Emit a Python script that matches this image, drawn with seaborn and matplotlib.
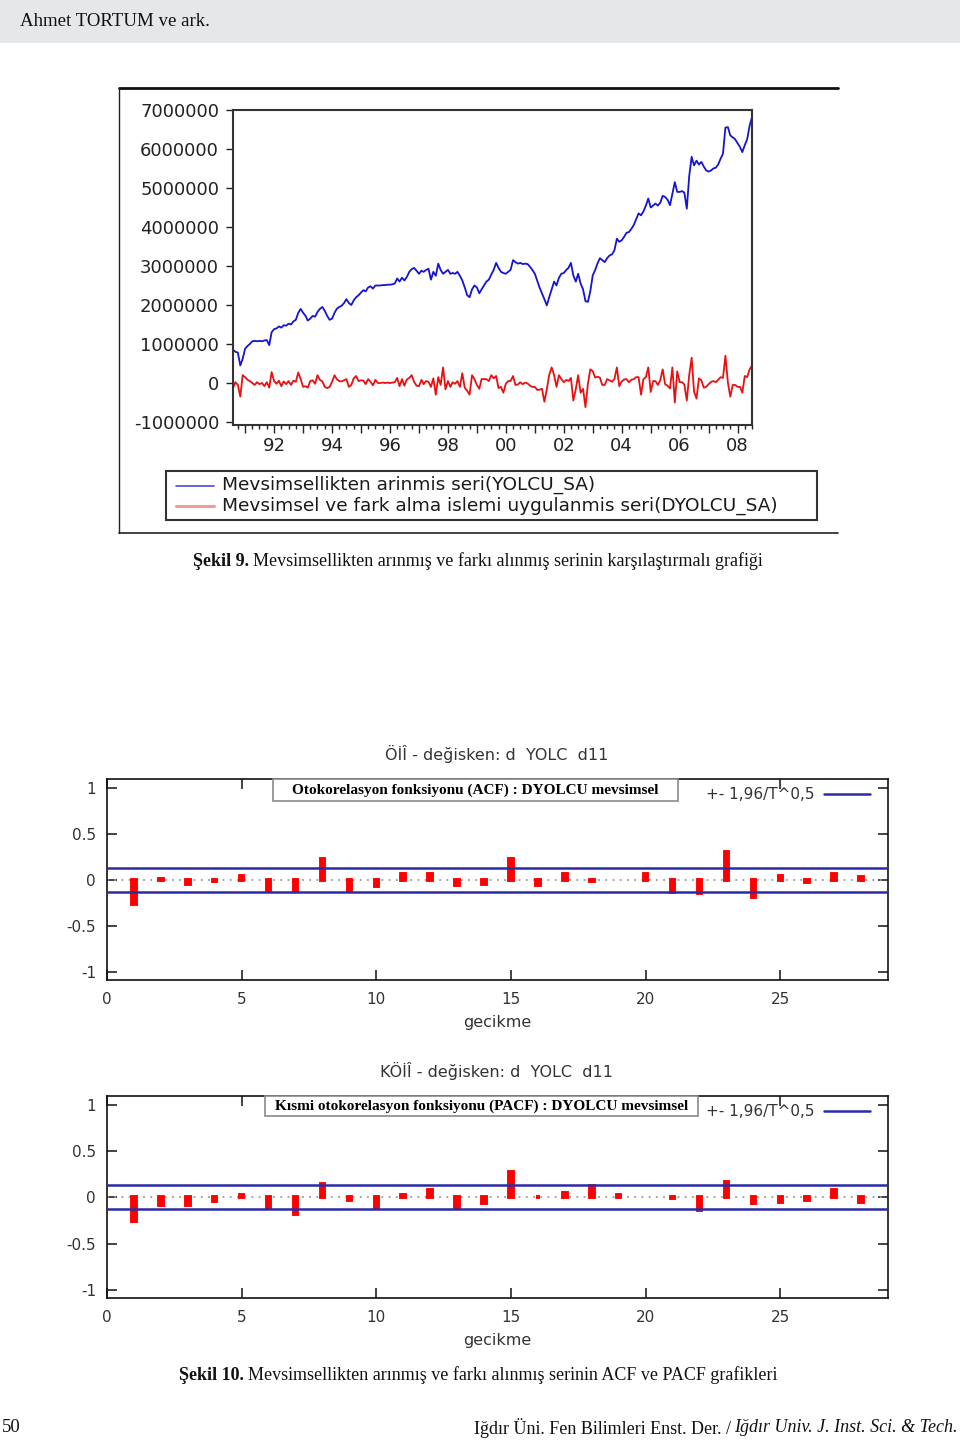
import numpy as np
import pandas as pd
import matplotlib
matplotlib.use("Agg")
import matplotlib.pyplot as plt
import matplotlib.dates as mdates
from matplotlib.patches import Rectangle
from matplotlib.lines import Line2D
import seaborn as sns

# ---------------- data ----------------
start_month = "1990-08"
# seasonally adjusted passenger series (millions), monthly 1990M08 - 2008M07
yolcu_sa = [
    0.85, 0.80, 0.78, 0.45, 0.62,
    0.88, 0.95, 1.00, 1.07, 1.08, 1.07, 1.08, 1.07, 1.09, 1.10, 0.97, 1.30,
    1.38, 1.40, 1.45, 1.42, 1.48, 1.47, 1.52, 1.50, 1.58, 1.62, 1.80, 1.90,
    1.80, 1.72, 1.60, 1.65, 1.72, 1.70, 1.82, 1.90, 1.95, 1.85, 1.72, 1.62,
    1.65, 1.80, 1.90, 1.95, 1.98, 2.05, 2.15, 2.05, 2.00, 2.12, 2.20, 2.25,
    2.32, 2.38, 2.35, 2.45, 2.48, 2.42, 2.50, 2.50, 2.50, 2.51, 2.51, 2.52,
    2.52, 2.53, 2.55, 2.68, 2.60, 2.70, 2.63, 2.72, 2.85, 2.92, 2.95, 2.88,
    2.80, 2.88, 2.85, 2.90, 2.93, 2.65, 2.85, 2.75, 3.06, 2.90, 2.80, 2.85,
    2.90, 2.80, 2.82, 2.80, 2.85, 2.75, 2.63, 2.45, 2.25, 2.20, 2.40, 2.50,
    2.45, 2.30, 2.40, 2.50, 2.60, 2.65, 2.78, 2.90, 3.08, 2.95, 2.85, 2.82,
    2.80, 2.85, 2.90, 3.15, 3.10, 3.06, 3.08, 3.05, 3.06, 3.05, 2.98, 2.90,
    2.80, 2.62, 2.45, 2.30, 2.15, 1.99, 2.20, 2.40, 2.60, 2.50, 2.70, 2.80,
    2.82, 2.90, 2.95, 3.08, 2.76, 2.60, 2.80, 2.55, 2.40, 2.10, 2.08, 2.35,
    2.76, 2.90, 3.06, 3.20, 3.15, 3.10, 3.20, 3.27, 3.30, 3.40, 3.70, 3.62,
    3.66, 3.75, 3.85, 3.87, 3.95, 4.05, 4.20, 4.35, 4.30, 4.40, 4.55, 4.73,
    4.50, 4.55, 4.60, 4.55, 4.62, 4.80, 4.77, 4.70, 4.56, 4.85, 5.15, 4.90,
    4.90, 4.92, 4.88, 4.47, 5.30, 5.80, 5.58, 5.70, 5.60, 5.67, 5.55, 5.45,
    5.42, 5.45, 5.50, 5.52, 5.60, 5.75, 5.88, 6.55, 6.56, 6.35, 6.30, 6.25,
    6.15, 6.05, 5.92, 6.10, 6.25, 6.60, 6.82,
]
# seasonally and regularly differenced series (millions)
dyolcu_sa = [
    -0.12, 0.02, -0.05, -0.35, 0.20,
    0.15, 0.08, 0.05, 0.00, -0.05, 0.02, -0.03, 0.00, -0.08, 0.02, -0.12, 0.28,
    0.05, -0.02, 0.06, -0.08, 0.04, -0.03, 0.05, -0.05, 0.06, 0.03, 0.27, 0.10,
    -0.10, -0.08, -0.12, 0.05, 0.07, -0.02, 0.20, 0.08, 0.04, -0.10, -0.13, -0.10,
    0.03, 0.20, 0.10, 0.05, 0.04, 0.07, 0.10, -0.10, -0.05, 0.12, 0.18, 0.05,
    0.07, 0.06, -0.03, 0.10, 0.03, -0.06, 0.08, 0.00, 0.00, 0.01, 0.00, 0.01,
    0.00, 0.01, 0.02, 0.13, -0.08, 0.10, -0.07, 0.09, 0.13, 0.20, 0.03, -0.07,
    -0.08, 0.08, -0.03, 0.05, 0.03, -0.10, 0.12, -0.30, 0.15, -0.05, 0.40, -0.16,
    0.05, -0.10, 0.02, -0.02, 0.05, -0.10, 0.25, -0.12, -0.20, -0.30, 0.20, 0.10,
    -0.05, -0.15, 0.10, 0.10, 0.10, 0.05, 0.20, 0.12, 0.18, -0.13, -0.10, -0.25,
    -0.02, 0.05, 0.05, 0.18, -0.05, -0.04, 0.02, -0.03, 0.01, -0.01, -0.07, -0.10,
    -0.10, -0.18, -0.17, -0.15, -0.48, -0.16, 0.21, 0.40, 0.20, -0.10, 0.20, 0.10,
    0.02, 0.08, 0.05, 0.13, -0.45, -0.16, 0.20, -0.25, -0.15, -0.62, -0.02, 0.35,
    0.30, 0.14, 0.16, 0.14, -0.05, -0.05, 0.10, 0.07, 0.03, 0.10, 0.40, -0.08,
    0.04, 0.09, 0.10, 0.02, 0.08, 0.10, 0.15, 0.15, -0.30, 0.10, 0.15, 0.40,
    -0.23, 0.05, 0.05, -0.05, 0.07, 0.35, -0.03, -0.07, -0.14, 0.40, -0.50, 0.30,
    0.02, 0.02, -0.04, -0.45, 0.20, 0.65, -0.22, -0.40, 0.12, 0.07, -0.12, -0.10,
    -0.03, 0.03, 0.05, 0.02, 0.08, 0.15, 0.13, 0.70, 0.01, -0.35, -0.05, -0.05,
    -0.10, -0.10, -0.25, 0.18, 0.15, 0.35, 0.45,
]
ts_yticks = [-1000000, 0, 1000000, 2000000, 3000000, 4000000, 5000000, 6000000, 7000000]
series_labels = ["Mevsimsellikten arinmis seri(YOLCU_SA)",
                 "Mevsimsel ve fark alma islemi uygulanmis seri(DYOLCU_SA)"]

acf_lags = [1, 2, 3, 4, 5, 6, 7, 8, 9, 10, 11, 12, 13, 14, 15, 16, 17, 18,
            20, 21, 22, 23, 24, 25, 26, 27, 28]
acf_vals = [-0.26, 0.01, -0.04, -0.01, 0.04, -0.11, -0.11, 0.23, -0.11, -0.07,
            0.06, 0.06, -0.06, -0.04, 0.23, -0.06, 0.06, -0.01,
            0.07, -0.13, -0.14, 0.31, -0.19, 0.04, -0.02, 0.07, 0.03]
pacf_lags = [1, 2, 3, 4, 5, 6, 7, 8, 9, 10, 11, 12, 13, 14, 15, 16, 17, 18, 19,
             21, 22, 23, 24, 25, 26, 27, 28]
pacf_vals = [-0.26, -0.08, -0.08, -0.04, 0.03, -0.10, -0.18, 0.15, -0.03, -0.11,
             0.03, 0.08, -0.10, -0.06, 0.28, 0.01, 0.05, 0.12, 0.03,
             -0.01, -0.14, 0.17, -0.06, -0.05, -0.03, 0.08, -0.05]
conf_band = 0.13
corr_ticks = [-1, -0.5, 0, 0.5, 1]
corr_ticklabels = ["-1", "-0.5", "0", "0.5", "1"]
lag_ticks = [0, 5, 10, 15, 20, 25]

# ---------------- figure ----------------
sns.set_style("ticks")
plt.rcParams["font.family"] = ["DejaVu Sans"]
W, H = 960, 1440
fig = plt.figure(figsize=(W / 100, H / 100), dpi=100)

def fx(px):
    return px / W

def fy(py):
    return 1 - py / H

serif = ["Liberation Serif", "DejaVu Serif"]

# header band
fig.patches.append(Rectangle((0, fy(43)), 1, 43 / H, transform=fig.transFigure,
                             facecolor="#e6e7e9", edgecolor="none", zorder=0))
fig.text(fx(20), fy(22), "Ahmet TORTUM ve ark.", family=serif, fontsize=13.6,
         ha="left", va="center", color="#111")

# ---------- Figure 9 : time series ----------
fig.lines.append(Line2D([fx(119), fx(838)], [fy(88), fy(88)], transform=fig.transFigure,
                        color="#111", lw=2))
fig.lines.append(Line2D([fx(119), fx(119)], [fy(88), fy(533)], transform=fig.transFigure,
                        color="#222", lw=1))
fig.lines.append(Line2D([fx(119), fx(838)], [fy(533), fy(533)], transform=fig.transFigure,
                        color="#222", lw=1.2))

ax1 = fig.add_axes([fx(233), fy(425), fx(752) - fx(233), fy(110) - fy(425)])
dates = pd.date_range(start_month, periods=len(yolcu_sa), freq="MS")
df = pd.DataFrame({
    "date": np.concatenate([dates, dates]),
    "value": np.concatenate([np.array(yolcu_sa), np.array(dyolcu_sa)]) * 1e6,
    "series": [series_labels[0]] * len(yolcu_sa) + [series_labels[1]] * len(dyolcu_sa),
})
sns.lineplot(data=df, x="date", y="value", hue="series",
             palette={series_labels[0]: "#1414d2", series_labels[1]: "#e81010"},
             legend=False, linewidth=1.3, ax=ax1)
ax1.set_xlim(dates[0], dates[-1])
ax1.set_ylim(-1077000, 7000000)
ax1.set_yticks(ts_yticks)
ax1.set_yticklabels([str(v) for v in ts_yticks])
ax1.xaxis.set_major_locator(mdates.YearLocator(1))
ax1.xaxis.set_major_formatter(
    plt.FuncFormatter(lambda v, p: mdates.num2date(v).strftime("%y")
                      if mdates.num2date(v).year % 2 == 0 else ""))
ax1.xaxis.set_minor_locator(mdates.MonthLocator(bymonth=[1, 4, 7, 10]))
ax1.set_xlabel("")
ax1.set_ylabel("")
for s in ax1.spines.values():
    s.set_color("#333")
    s.set_linewidth(1.5)
ax1.tick_params(axis="y", direction="out", length=5, width=1, pad=5,
                labelsize=13, colors="#222")
ax1.tick_params(axis="x", which="major", direction="out", length=6, width=1, pad=3,
                labelsize=13, colors="#222")
ax1.tick_params(axis="x", which="minor", direction="out", length=3, width=1, colors="#222")
ax1.grid(False)

# legend box
fig.patches.append(Rectangle((fx(166), fy(520)), fx(817) - fx(166), fy(471) - fy(520),
                             transform=fig.transFigure, facecolor="white",
                             edgecolor="#333", lw=1.5))
fig.lines.append(Line2D([fx(176), fx(214)], [fy(486), fy(486)], transform=fig.transFigure,
                        color="#4a4ad8", lw=1.2))
fig.lines.append(Line2D([fx(176), fx(214)], [fy(506), fy(506)], transform=fig.transFigure,
                        color="#f29a9a", lw=2.2))
fig.text(fx(222), fy(485), series_labels[0], fontsize=13.3, ha="left", va="center",
         color="#1a1a1a")
fig.text(fx(222), fy(506), series_labels[1], fontsize=13.3, ha="left", va="center",
         color="#1a1a1a")

renderer = fig.canvas.get_renderer()

def mixed_text(y, parts, anchor_x, align="center", size=13):
    arts = []
    widths = []
    for s, kw in parts:
        t = fig.text(0, y, s, family=serif, fontsize=size, ha="left", va="center",
                     color="#111", **kw)
        arts.append(t)
        widths.append(t.get_window_extent(renderer).width / W)
    gap = 4 / W
    total = sum(widths) + gap * (len(parts) - 1)
    if align == "center":
        x = anchor_x - total / 2
    elif align == "right":
        x = anchor_x - total
    else:
        x = anchor_x
    for t, w in zip(arts, widths):
        t.set_x(x)
        x += w + gap

mixed_text(fy(561), [("Şekil 9.", {"weight": "bold"}),
                     ("Mevsimsellikten arınmış ve farkı alınmış serinin karşılaştırmalı grafiği", {})],
           fx(478))

# ---------- Figure 10 : ACF / PACF ----------
def corr_panel(top_px, bot_px, lags, vals, title, boxtitle, box_l, box_r, box_b):
    ax = fig.add_axes([fx(107), fy(bot_px), fx(888) - fx(107), fy(top_px) - fy(bot_px)])
    ax.axhline(0, color="#9a9a9a", lw=1.3, ls=(0, (1, 3)), zorder=1)
    sns.barplot(x=lags, y=vals, native_scale=True, color="#ff0000", saturation=1,
                width=0.13, edgecolor="#ff0000", linewidth=2.8, errorbar=None,
                ax=ax, zorder=3)
    ax.axhline(conf_band, color="#2b2ba8", lw=1.8, zorder=4)
    ax.axhline(-conf_band, color="#2b2ba8", lw=1.8, zorder=4)
    ax.set_xlim(0, 29)
    ax.set_ylim(-1.09, 1.1)
    ax.set_xticks(lag_ticks)
    ax.set_xticklabels([str(v) for v in lag_ticks])
    ax.set_yticks(corr_ticks)
    ax.set_yticklabels(corr_ticklabels)
    ax.set_xlabel("")
    ax.set_ylabel("")
    for s in ax.spines.values():
        s.set_color("#111")
        s.set_linewidth(1.2)
        s.set_visible(True)
    ax.tick_params(direction="in", length=7, width=1.1, top=True, right=True,
                   labelsize=11, colors="#111", labelcolor="#333")
    ax.tick_params(axis="x", pad=9)
    ax.tick_params(axis="y", pad=8)
    ax.grid(False)
    h = bot_px - top_px
    ax.text((706 - 107) / 781, 0.925, "+- 1,96/T^0,5", transform=ax.transAxes,
            fontsize=11, ha="left", va="center", color="#333")
    ax.plot([(824 - 107) / 781, (870 - 107) / 781], [0.925, 0.925], transform=ax.transAxes,
            color="#2b2ba8", lw=1.8)
    ax.add_patch(Rectangle(((box_l - 107) / 781, (bot_px - box_b) / h),
                           (box_r - box_l) / 781, 1 - (bot_px - box_b) / h,
                           transform=ax.transAxes, facecolor="white", edgecolor="#8a8a8a",
                           lw=1.2, zorder=5, clip_on=False))
    ax.text(((box_l + box_r) / 2 - 107) / 781, 1 - (box_b - top_px) / h / 2, boxtitle,
            transform=ax.transAxes, family=serif, weight="bold", fontsize=11,
            ha="center", va="center", color="#000", zorder=6)
    fig.text(fx(497), fy(top_px - 25), title, fontsize=11.5, ha="center", va="center",
             color="#333")
    fig.text(fx(497), fy(bot_px + 43), "gecikme", fontsize=11.5, ha="center",
             va="center", color="#333")
    return ax

corr_panel(779, 980, acf_lags, acf_vals, "ÖİÎ - değisken: d  YOLC  d11",
           "Otokorelasyon fonksiyonu (ACF) : DYOLCU mevsimsel", 273, 678, 801)
corr_panel(1096, 1298, pacf_lags, pacf_vals, "KÖİÎ - değisken: d  YOLC  d11",
           "Kısmi otokorelasyon fonksiyonu (PACF) : DYOLCU mevsimsel", 265, 698, 1116)

mixed_text(fy(1375), [("Şekil 10.", {"weight": "bold"}),
                      ("Mevsimsellikten arınmış ve farkı alınmış serinin ACF ve PACF grafikleri", {})],
           fx(478))

# footer
fig.text(fx(2), fy(1428), "50", family=serif, fontsize=13.5, ha="left", va="center",
         color="#111")
mixed_text(fy(1428), [("Iğdır Üni. Fen Bilimleri Enst. Der. /", {}),
                      ("Iğdır Univ. J. Inst. Sci. & Tech.", {"style": "italic"})],
           fx(958), align="right", size=13)

fig.savefig("out.png", dpi=100)
